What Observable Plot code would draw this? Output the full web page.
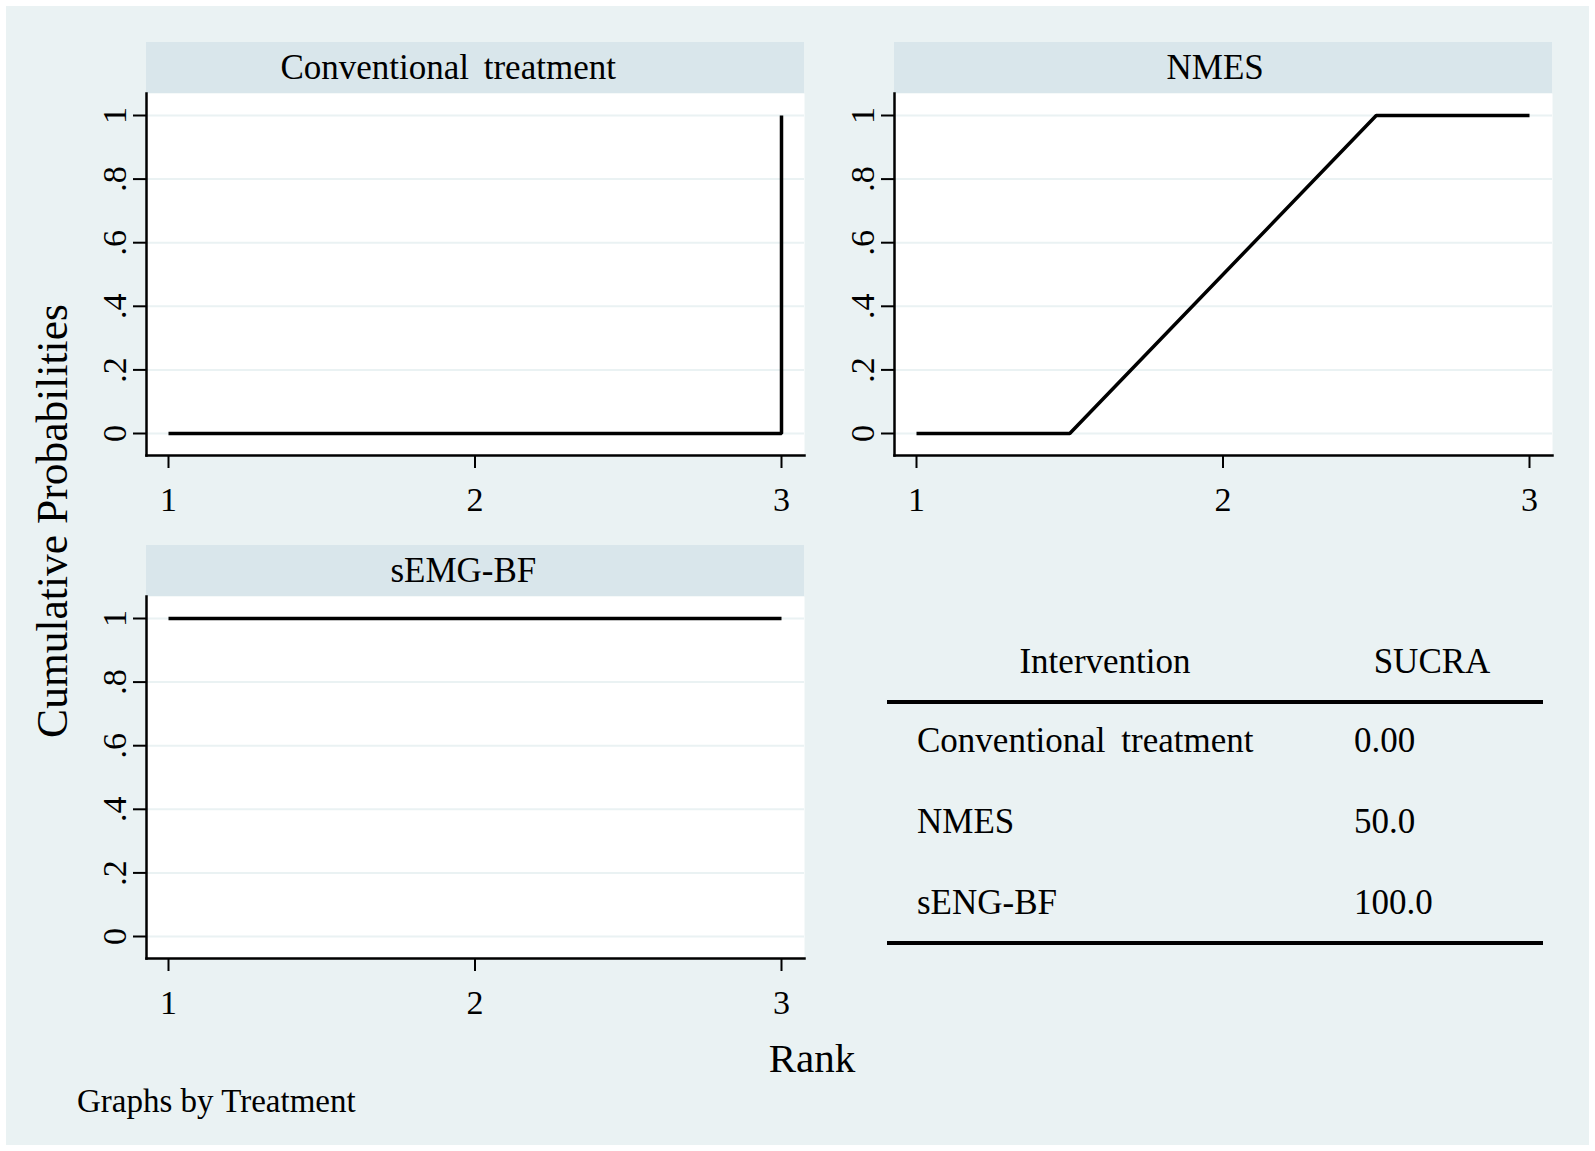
<!DOCTYPE html>
<html>
<head>
<meta charset="utf-8">
<script src="https://cdn.jsdelivr.net/npm/d3@7"></script>
<script src="https://cdn.jsdelivr.net/npm/@observablehq/plot@0.6"></script>
<style>
  html, body { margin: 0; padding: 0; background: #ffffff; }
  #root { position: relative; width: 1595px; height: 1151px; background: #ffffff; overflow: hidden;
          font-family: "Liberation Serif", "Times New Roman", serif; color: #000; }
  #bg { position: absolute; left: 6px; top: 6px; width: 1583px; height: 1139px; background: #eaf2f3; }
  .strip { position: absolute; background: #d9e6eb; display: flex; align-items: center; justify-content: flex-start;
           font-size: 35px; word-spacing: 6px; }
  .strip span { white-space: nowrap; line-height: 1; }
  .panel { position: absolute; }
  .txt { position: absolute; white-space: nowrap; line-height: 1; }
  .hline { position: absolute; background: #000; }
</style>
</head>
<body>
<div id="root"><div id="bg"></div></div>
<script>
// ---- data ----
const treatments = ["Conventional treatment", "NMES", "sEMG-BF"];
// traced vertices of each cumulative-probability line (rank, probability)
const convRank = [1, 3, 3];
const convProb = [0, 0, 1];
const nmesRank = [1, 1.5, 2.5, 3];
const nmesProb = [0, 0, 1, 1];
const semgRank = [1, 3];
const semgProb = [1, 1];
const rankTicks = [1, 2, 3];
const probTicks = [0, 0.2, 0.4, 0.6, 0.8, 1];
const probTickLabels = ["0", ".2", ".4", ".6", ".8", "1"];
// SUCRA table
const tableHeader = ["Intervention", "SUCRA"];
const tableInterventions = ["Conventional treatment", "NMES", "sENG-BF"];
const tableSucra = ["0.00", "50.0", "100.0"];
const yTitle = "Cumulative Probabilities";
const xTitle = "Rank";
const note = "Graphs by Treatment";

const root = document.getElementById("root");

function addText(text, left, top, size, extra = {}) {
  const d = document.createElement("div");
  d.className = "txt";
  d.textContent = text;
  d.style.left = left + "px";
  d.style.top = top + "px";
  d.style.fontSize = size + "px";
  Object.assign(d.style, extra);
  root.appendChild(d);
  return d;
}

function makePanel(title, ranks, probs, plotLeft, plotTop) {
  const W = 658, H = 362, ML = 86, MB = 75;
  const strip = document.createElement("div");
  strip.className = "strip";
  strip.style.left = plotLeft + "px";
  strip.style.top = (plotTop - 51) + "px";
  strip.style.width = W + "px";
  strip.style.height = "51px";
  const span = document.createElement("span");
  span.textContent = title;
  strip.appendChild(span);
  root.appendChild(strip);
  const w = span.getBoundingClientRect().width;
  span.style.marginLeft = (W / 2 - 1.16 * w / 2) + "px";

  const data = ranks.map((r, i) => ({rank: r, prob: probs[i]}));
  const chart = Plot.plot({
    width: W + ML,
    height: H + MB,
    marginLeft: ML,
    marginRight: 0,
    marginTop: 0,
    marginBottom: MB,
    style: {background: "transparent", fontFamily: "Liberation Serif, serif", fontSize: "34px", color: "#000", overflow: "visible"},
    x: {domain: [1, 3], insetLeft: 22, insetRight: 23},
    y: {domain: [0, 1], insetTop: 22, insetBottom: 22},
    marks: [
      Plot.frame({fill: "#ffffff", stroke: null}),
      Plot.gridY(probTicks, {stroke: "#eaf2f3", strokeOpacity: 1, strokeWidth: 2}),
      Plot.line(data, {x: "rank", y: "prob", stroke: "#000", strokeWidth: 3.5, strokeLinejoin: "miter", strokeLinecap: "butt"}),
      Plot.axisX(rankTicks, {tickSize: 13, tickPadding: 18, strokeWidth: 2, fontSize: 34, tickFormat: d => String(d), label: null}),
      Plot.axisY(probTicks, {tickSize: 13, tickPadding: 8, tickRotate: -90, strokeWidth: 2, fontSize: 34,
        tickFormat: d => probTickLabels[probTicks.indexOf(d)], label: null}),
      Plot.frame({anchor: "left", stroke: "#000", strokeWidth: 2.5}),
      Plot.frame({anchor: "bottom", stroke: "#000", strokeWidth: 2.5})
    ]
  });
  chart.classList.add("panel");
  chart.style.left = (plotLeft - ML) + "px";
  chart.style.top = plotTop + "px";
  root.appendChild(chart);
}

makePanel(treatments[0], convRank, convProb, 146, 93);
makePanel(treatments[1], nmesRank, nmesProb, 894, 93);
makePanel(treatments[2], semgRank, semgProb, 146, 596);

// axis titles
addText(yTitle, 53, 521, 43.5, {transform: "translate(-50%, -50%) rotate(-90deg)"});
addText(xTitle, 812, 1058, 41, {transform: "translate(-50%, -50%)"});
addText(note, 77, 1101, 33, {transform: "translate(0, -50%)"});

// SUCRA table
addText(tableHeader[0], 1105, 661, 35, {transform: "translate(-50%, -50%)"});
addText(tableHeader[1], 1432, 661, 35, {transform: "translate(-50%, -50%)"});
const rowY = [740, 821, 902];
tableInterventions.forEach((t, i) => {
  addText(t, 917, rowY[i], 35, {transform: "translate(0, -50%)", wordSpacing: "7px"});
  addText(tableSucra[i], 1354, rowY[i], 35, {transform: "translate(0, -50%)"});
});
for (const y of [702, 943]) {
  const l = document.createElement("div");
  l.className = "hline";
  l.style.left = "887px"; l.style.top = (y - 2) + "px";
  l.style.width = "656px"; l.style.height = "4px";
  root.appendChild(l);
}
</script>
</body>
</html>
